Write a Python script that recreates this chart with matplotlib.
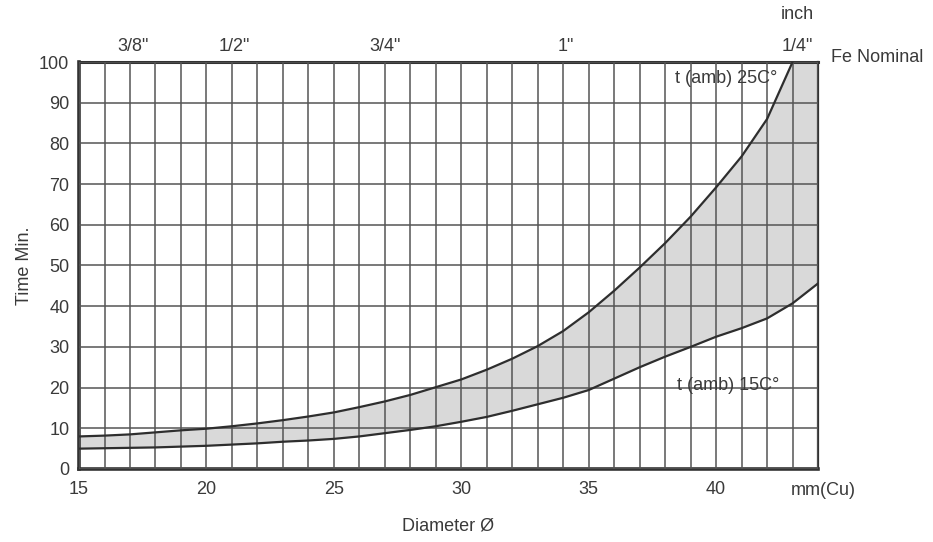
import numpy as np
import matplotlib
matplotlib.use('Agg')
import matplotlib.pyplot as plt
from matplotlib.ticker import MultipleLocator

plt.rcParams['font.family'] = ['Liberation Sans', 'DejaVu Sans']

# diameter in mm (Cu)
diam = [15, 16, 17, 18, 19, 20, 21, 22, 23, 24, 25, 26, 27, 28, 29,
        30, 31, 32, 33, 34, 35, 36, 37, 38, 39, 40, 41, 42, 43, 44]
# time in minutes at ambient 15C
t15 = [5.0, 5.1, 5.2, 5.3, 5.5, 5.7, 6.0, 6.3, 6.7, 7.0, 7.4, 8.0, 8.8, 9.6, 10.5,
       11.6, 12.8, 14.3, 15.9, 17.5, 19.4, 22.2, 25.0, 27.6, 30.0, 32.5, 34.6, 37.0, 40.7, 45.6]
# time in minutes at ambient 25C (ends where it leaves the chart)
t25 = [8.0, 8.2, 8.5, 9.0, 9.5, 9.9, 10.5, 11.2, 12.0, 12.9, 13.9, 15.2, 16.6, 18.2, 20.1,
       22.0, 24.4, 27.1, 30.2, 33.9, 38.5, 43.8, 49.5, 55.5, 62.0, 69.2, 76.8, 86.0, 100.0]

inch_pos = [17.1, 21.1, 27.0, 34.1, 43.2]
inch_labels = ['3/8"', '1/2"', '3/4"', '1"', '1/4"']

txt = '#3a3a3a'
line_c = '#2e2e2e'

fig = plt.figure(figsize=(9.33, 5.42), dpi=100)
ax = fig.add_axes([0.0847, 0.1347, 0.7921, 0.7509])

ax.set_xlim(15, 44)
ax.set_ylim(0, 100)

x = np.array(diam, dtype=float)
lo = np.array(t15)
hi = np.append(t25, ax.get_ylim()[1])   # past 43 mm the band runs to the top edge
ax.fill_between(x, lo, hi, color='#d9d9d9', zorder=1, linewidth=0)

ax.plot(diam[:len(t25)], t25, color=line_c, lw=1.6, zorder=3)
ax.plot(diam, t15, color=line_c, lw=1.6, zorder=3)

ax.xaxis.set_major_locator(MultipleLocator(5))
ax.xaxis.set_minor_locator(MultipleLocator(1))
ax.yaxis.set_major_locator(MultipleLocator(10))
ax.grid(which='both', axis='x', color='#555555', lw=1.1, zorder=2)
ax.grid(which='major', axis='y', color='#555555', lw=1.1, zorder=2)
ax.set_axisbelow(False)

ax.tick_params(which='both', length=0, labelsize=13, labelcolor=txt)
ax.tick_params(axis='x', pad=9)
ax.tick_params(axis='y', pad=7)

for side, w in [('left', 2.6), ('bottom', 2.6), ('top', 2.2), ('right', 1.6)]:
    ax.spines[side].set_linewidth(w)
    ax.spines[side].set_color('#333333')

ax.set_xlabel('Diameter Ø', fontsize=13, color=txt, labelpad=14)
ax.set_ylabel('Time Min.', fontsize=13, color=txt, labelpad=4)

# top inch scale
for p, lab in zip(inch_pos, inch_labels):
    ax.text(p, 101.8, lab, ha='center', va='bottom', fontsize=13, color=txt)
ax.text(43.2, 109.6, 'inch', ha='center', va='bottom', fontsize=13, color=txt)
ax.text(44.5, 101.0, 'Fe Nominal', ha='left', va='center', fontsize=13, color=txt, clip_on=False)
ax.text(44.2, -5.2, 'mm(Cu)', ha='center', va='center', fontsize=13, color=txt, clip_on=False)

ax.text(42.4, 96.0, 't (amb) 25C°', ha='right', va='center', fontsize=13, color=txt)
ax.text(42.5, 20.6, 't (amb) 15C°', ha='right', va='center', fontsize=13, color=txt)

fig.savefig('out.png', dpi=100)
